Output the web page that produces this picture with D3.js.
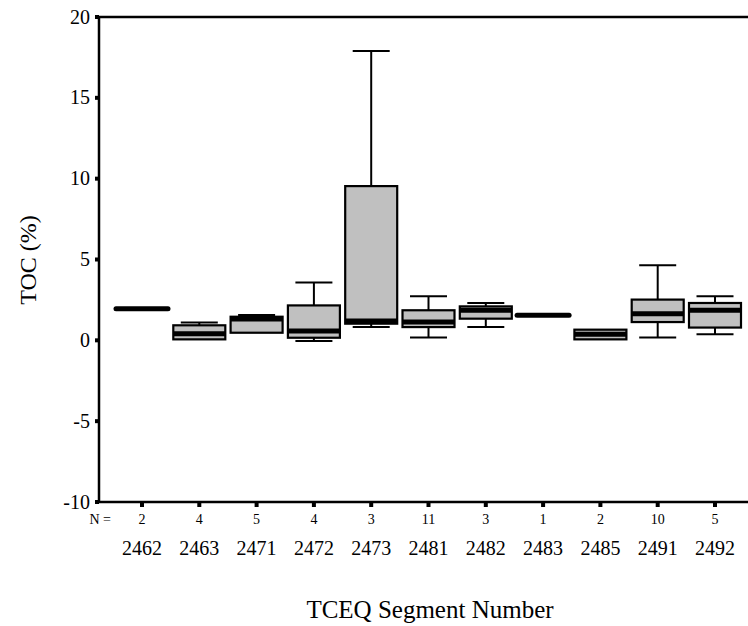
<!DOCTYPE html>
<html>
<head>
<meta charset="utf-8">
<script src="https://cdn.jsdelivr.net/npm/d3@7"></script>
<style>
body { margin: 0; background: #fff; }
text { font-family: "Liberation Serif", "Times New Roman", serif; fill: #000; }
</style>
</head>
<body>
<svg id="chart"></svg>
<script>
var segments = ["2462", "2463", "2471", "2472", "2473", "2481", "2482", "2483", "2485", "2491", "2492"];
var nCounts = [2, 4, 5, 4, 3, 11, 3, 1, 2, 10, 5];
var whiskLo = [1.95, 0.06, 0.47, -0.04, 0.82, 0.17, 0.82, 1.55, 0.06, 0.17, 0.37];
var q1 = [1.95, 0.06, 0.47, 0.16, 1.03, 0.82, 1.34, 1.55, 0.06, 1.13, 0.79];
var median = [1.95, 0.41, 1.32, 0.57, 1.2, 1.13, 1.86, 1.55, 0.37, 1.65, 1.86];
var q3 = [1.95, 0.93, 1.46, 2.16, 9.54, 1.86, 2.1, 1.55, 0.66, 2.52, 2.31];
var whiskHi = [1.95, 1.1, 1.57, 3.57, 17.89, 2.72, 2.31, 1.55, 0.66, 4.64, 2.72];
var yTicks = [-10, -5, 0, 5, 10, 15, 20];

var width = 748, height = 626;
var plotL = 99, plotT = 17, plotR = 748, plotB = 502;

var svg = d3.select("#chart")
    .attr("width", width)
    .attr("height", height);

var x = d3.scalePoint()
    .domain(segments)
    .range([142, 715]);

var y = d3.scaleLinear()
    .domain([-10, 20])
    .range([plotB, plotT]);

var boxW = 52, capW = 37;

var data = segments.map(function(s, i){
    return {seg: s, n: nCounts[i], lo: whiskLo[i], q1: q1[i], med: median[i], q3: q3[i], hi: whiskHi[i]};
});

// frame lines
svg.append("line").attr("x1", plotL).attr("x2", plotL).attr("y1", plotT - 1).attr("y2", plotB + 1)
    .attr("stroke", "#000").attr("stroke-width", 2.5);
svg.append("line").attr("x1", plotL).attr("x2", plotR).attr("y1", plotT).attr("y2", plotT)
    .attr("stroke", "#000").attr("stroke-width", 2.5);
svg.append("line").attr("x1", plotL).attr("x2", plotR).attr("y1", plotB).attr("y2", plotB)
    .attr("stroke", "#000").attr("stroke-width", 2.5);

// y ticks
var yAxis = svg.append("g");
yAxis.selectAll("rect")
    .data(yTicks)
    .enter()
    .append("rect")
    .attr("x", plotL - 4)
    .attr("y", function(d){ return y(d) - 2; })
    .attr("width", 4)
    .attr("height", 4)
    .attr("fill", "#000");
yAxis.selectAll("text")
    .data(yTicks)
    .enter()
    .append("text")
    .attr("x", 90)
    .attr("y", function(d){ return y(d); })
    .attr("dy", "0.33em")
    .attr("text-anchor", "end")
    .style("font-size", "20px")
    .text(function(d){ return d; });

// x ticks
var xAxis = svg.append("g");
xAxis.selectAll("rect")
    .data(segments)
    .enter()
    .append("rect")
    .attr("x", function(d){ return x(d) - 2; })
    .attr("y", plotB + 1)
    .attr("width", 4)
    .attr("height", 4)
    .attr("fill", "#000");
xAxis.selectAll("text.n")
    .data(data)
    .enter()
    .append("text")
    .attr("class", "n")
    .attr("x", function(d){ return x(d.seg); })
    .attr("y", 524)
    .attr("text-anchor", "middle")
    .style("font-size", "14px")
    .text(function(d){ return d.n; });
xAxis.append("text")
    .attr("x", 111)
    .attr("y", 524)
    .attr("text-anchor", "end")
    .style("font-size", "14px")
    .text("N =");
xAxis.selectAll("text.seg")
    .data(segments)
    .enter()
    .append("text")
    .attr("class", "seg")
    .attr("x", function(d){ return x(d); })
    .attr("y", 555)
    .attr("text-anchor", "middle")
    .style("font-size", "20px")
    .text(function(d){ return d; });

// boxes
var boxes = svg.selectAll("g.box")
    .data(data)
    .enter()
    .append("g")
    .attr("class", "box");

boxes.append("line")
    .attr("x1", function(d){ return x(d.seg); })
    .attr("x2", function(d){ return x(d.seg); })
    .attr("y1", function(d){ return y(d.q3); })
    .attr("y2", function(d){ return y(d.hi); })
    .attr("stroke", "#000").attr("stroke-width", 2);
boxes.append("line")
    .attr("x1", function(d){ return x(d.seg); })
    .attr("x2", function(d){ return x(d.seg); })
    .attr("y1", function(d){ return y(d.q1); })
    .attr("y2", function(d){ return y(d.lo); })
    .attr("stroke", "#000").attr("stroke-width", 2);
boxes.filter(function(d){ return d.hi > d.q3; })
    .append("line")
    .attr("x1", function(d){ return x(d.seg) - capW / 2; })
    .attr("x2", function(d){ return x(d.seg) + capW / 2; })
    .attr("y1", function(d){ return y(d.hi); })
    .attr("y2", function(d){ return y(d.hi); })
    .attr("stroke", "#000").attr("stroke-width", 2);
boxes.filter(function(d){ return d.lo < d.q1; })
    .append("line")
    .attr("x1", function(d){ return x(d.seg) - capW / 2; })
    .attr("x2", function(d){ return x(d.seg) + capW / 2; })
    .attr("y1", function(d){ return y(d.lo); })
    .attr("y2", function(d){ return y(d.lo); })
    .attr("stroke", "#000").attr("stroke-width", 2);

boxes.append("rect")
    .attr("x", function(d){ return x(d.seg) - boxW / 2; })
    .attr("y", function(d){ return y(d.q3); })
    .attr("width", boxW)
    .attr("height", function(d){ return y(d.q1) - y(d.q3); })
    .attr("fill", "#c0c0c0")
    .attr("stroke", "#000")
    .attr("stroke-width", 2.2);

boxes.append("line")
    .attr("x1", function(d){ return x(d.seg) - boxW / 2; })
    .attr("x2", function(d){ return x(d.seg) + boxW / 2; })
    .attr("y1", function(d){ return y(d.med); })
    .attr("y2", function(d){ return y(d.med); })
    .attr("stroke", "#000")
    .attr("stroke-width", 5)
    .attr("stroke-linecap", function(d){ return d.q3 === d.q1 ? "round" : "butt"; });

// axis titles
svg.append("text")
    .attr("transform", "translate(36,260) rotate(-90)")
    .attr("text-anchor", "middle")
    .style("font-size", "24px")
    .text("TOC (%)");
svg.append("text")
    .attr("x", 430)
    .attr("y", 618)
    .attr("text-anchor", "middle")
    .style("font-size", "25px")
    .text("TCEQ Segment Number");
</script>
</body>
</html>
